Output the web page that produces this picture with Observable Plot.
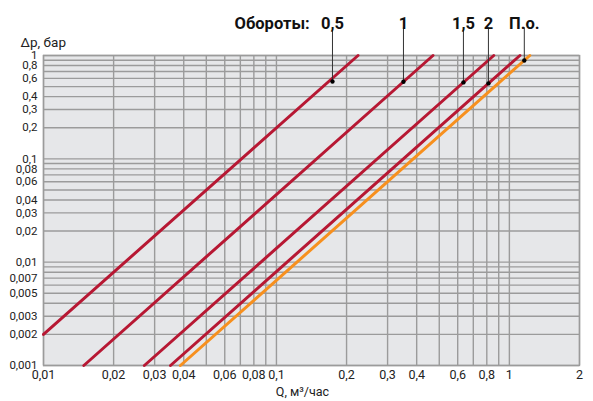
<!DOCTYPE html>
<html>
<head>
<meta charset="utf-8">
<script src="https://cdn.jsdelivr.net/npm/d3@7"></script>
<script src="https://cdn.jsdelivr.net/npm/@observablehq/plot@0.6"></script>
<style>
  html, body { margin: 0; padding: 0; background: #fff; }
  #chart svg { display: block; }
  #chart svg g[aria-label="ticklab"] text { letter-spacing: -0.6px; }
</style>
</head>
<body>
<div id="chart"></div>
<script>
// Tick labels
const xTicks = [0.01, 0.02, 0.03, 0.04, 0.06, 0.08, 0.1, 0.2, 0.3, 0.4, 0.6, 0.8, 1, 2];
const yTicks = [0.001, 0.002, 0.003, 0.005, 0.007, 0.01, 0.02, 0.03, 0.04, 0.06, 0.08, 0.1, 0.2, 0.3, 0.4, 0.6, 0.8, 1];

// Series (Обороты) — endpoints of each straight log-log line
const speeds  = ["0,5", "1", "1,5", "2", "П.о."];
const qStart  = [0.01, 0.0149, 0.0271, 0.0351, 0.0387];
const dpStart = [0.002, 0.001, 0.001, 0.001, 0.001];
const qEnd    = [0.224, 0.47, 0.857, 1.11, 1.224];
const dpEnd   = [1, 1, 1, 1, 1];
const colors  = ["#b71833", "#b71833", "#b71833", "#b71833", "#f7901e"];

// Marker points where the labels point to
const markerQ  = [0.174, 0.351, 0.635, 0.813, 1.159];
const markerDp = [0.561, 0.558, 0.549, 0.537, 0.896];
const leaderTop = 1.85;

const lineData = speeds.flatMap((s, i) => [
  {s, q: qStart[i], dp: dpStart[i]},
  {s, q: qEnd[i], dp: dpEnd[i]}
]);
const markers = speeds.map((s, i) => ({s, q: markerQ[i], dp: markerDp[i]}));

// Grid (1..9 per decade)
const xGrid = [];
for (const d of [0.01, 0.1]) for (let k = 1; k <= 9; k++) xGrid.push(+(d * k).toFixed(4));
xGrid.push(1, 2);
const yGrid = [];
for (const d of [0.001, 0.01, 0.1]) for (let k = 1; k <= 9; k++) yGrid.push(+(d * k).toFixed(5));
yGrid.push(1);

const fmt = d => String(d).replace(".", ",");
const gridColor = "#9b9b9b";

const chart = Plot.plot({
  width: 593,
  height: 401,
  marginLeft: 43,
  marginRight: 14,
  marginTop: 55,
  marginBottom: 36,
  style: {fontFamily: "Roboto, sans-serif", fontSize: "12px", color: "#222", background: "#fff"},
  x: {type: "log", domain: [0.01, 2], label: null, axis: null},
  y: {type: "log", domain: [0.001, 1], label: null, axis: null},
  color: {domain: speeds, range: colors},
  marks: [
    Plot.frame({fill: "#e6e7e9"}),
    Plot.ruleX(xGrid, {stroke: gridColor, strokeWidth: 1.4}),
    Plot.ruleY(yGrid, {stroke: gridColor, strokeWidth: 1.4}),
    Plot.frame({stroke: gridColor, strokeWidth: 1.4}),
    Plot.text(xTicks, {x: d => d, text: fmt, frameAnchor: "bottom", dy: 13, fontSize: 12.5, fill: "#222", ariaLabel: "ticklab"}),
    Plot.text(yTicks, {y: d => d, text: fmt, frameAnchor: "left", dx: -6, textAnchor: "end", fontSize: 11.5, fill: "#222", ariaLabel: "ticklab"}),
    Plot.line(lineData, {x: "q", y: "dp", z: "s", stroke: "s", strokeWidth: 3}),
    Plot.ruleX(markers, {x: "q", y1: "dp", y2: () => leaderTop, stroke: "#333", strokeWidth: 1}),
    Plot.dot(markers, {x: "q", y: "dp", r: 2.2, fill: "#000"}),
    Plot.text(markers, {x: "q", text: "s", frameAnchor: "top", dy: -38, fontSize: 16.5, fontWeight: "bold", fill: "#111"}),
    Plot.text(["Обороты:"], {frameAnchor: "top-left", dx: 191, dy: -38, textAnchor: "start", fontSize: 16.5, fontWeight: "bold", fill: "#111"}),
    Plot.text(["Δp, бар"], {frameAnchor: "top-left", dx: -23, dy: -18, textAnchor: "start", fontSize: 13.5, fill: "#222"}),
    Plot.text(["Q, м³/час"], {frameAnchor: "bottom", dx: -9, dy: 30, fontSize: 12.5, fill: "#222"})
  ]
});
document.getElementById("chart").appendChild(chart);
</script>
</body>
</html>
